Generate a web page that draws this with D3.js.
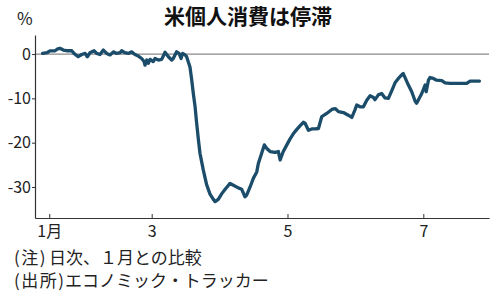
<!DOCTYPE html>
<html><head><meta charset="utf-8">
<script src="https://cdn.jsdelivr.net/npm/d3@7"></script>
<style>
html,body{margin:0;padding:0;background:#fff;}
svg{display:block;font-family:"Noto Sans CJK JP","Noto Sans",sans-serif;}
</style></head>
<body><svg id="c" width="500" height="301"></svg>
<script>
// Day of year 2020 (Jan 1 = 0) and change vs January (%)
const days = [11,13,14.3,16.6,17.6,18.8,20.3,21.8,24.1,25.1,27,28.6,30.1,31.1,32.3,34.1,35.3,36.8,38.3,39.8,41.3,42.8,44.3,45.8,46.5,48,49.5,51,52.5,54,55.5,56.6,57,57.8,58.5,59.3,60.7,61.5,63,64.5,66,67.5,69,69.7,71.2,72.3,73.2,73.9,75,75.7,77.2,78,78.7,79.5,80.2,81,81.7,83.2,84.7,86.2,87.7,88.5,89.9,91.5,93,95.2,96.7,98.9,100.4,101.9,102.7,104.2,105.7,107.2,107.9,109.4,110.6,111.7,113.2,115.4,116.9,117.7,119.1,120.7,122.1,123.6,125.2,126.6,128.1,128.9,130.4,131.9,133.4,134.9,136.4,138.6,140.9,142.4,143.9,146.1,148.3,149.9,151.3,152.1,153.6,155.1,156.6,158.1,159.6,160.3,161.8,163.3,164.8,166.3,167.8,169.3,170.8,172.3,173,175.3,176.8,178.3,179,181.3,182.8,183.3,184.3,185,186.5,188,190.3,191.8,194,197,199.4,201.5,203,205.3,207.2];
const values = [0.15,0.3,0.7,0.75,1.1,1.3,0.9,0.75,0.75,0.15,-0.6,-0.1,0.15,-0.6,0.3,0.75,0.15,-0.1,0.9,0.15,-0.2,0.5,0.15,0.3,0.75,0.3,0.15,0.5,-0.1,-0.45,-1,-1.7,-2.5,-1.35,-2.1,-1.2,-1.7,-1,-1.35,-1.2,0.4,-0.6,-1.35,-1,0.5,0.15,-1,0.15,-0.2,-0.6,-2.9,-5.9,-8.9,-11.9,-15.6,-19.4,-22.4,-26.2,-29.5,-31.6,-32.8,-33.3,-32.8,-31.5,-30.5,-29.2,-29.6,-30.2,-30.5,-32.2,-31.8,-30,-28,-26.6,-24.7,-22.4,-20.5,-21.3,-22,-22.2,-22,-23.9,-22,-20.5,-19.2,-18,-17,-16.2,-15.4,-15.6,-17.2,-16.9,-16.9,-16.8,-14.1,-13.4,-12.5,-12.3,-13,-13.2,-13.8,-14.3,-12.6,-11.5,-11.9,-11.9,-10.4,-9.4,-9.8,-10.3,-9.2,-8.9,-9.9,-10,-8.3,-6.5,-5.5,-4.7,-4.4,-7,-8.5,-10.6,-11.1,-8.9,-7,-8.5,-5.9,-5.3,-5.5,-5.9,-6,-6.5,-6.6,-6.6,-6.6,-6.6,-6.1,-6.1,-6.1];
const yTicks = [0,-10,-20,-30];
const xTickDays = [14,60,121,182];
const xTickLabels = ["1月","3","5","7"];
const title = "米個人消費は停滞";
const unit = "%";
const noteHeads = ["(注)","(出所)"];
const noteBodies = ["日次、１月との比較","エコノミック・トラッカー"];

const svg = d3.select("#c");
const x = d3.scaleLinear().domain([7.6,211.5]).range([35,489]);
const y = d3.scaleLinear().domain([-37,4.3]).range([218,35]);

// zero line
svg.append("line").attr("x1",35).attr("x2",489).attr("y1",y(0)).attr("y2",y(0))
  .attr("stroke","#8a8a8a").attr("stroke-width",1.2);

// y axis
const ya = svg.append("g").attr("transform","translate(35,0)")
  .call(d3.axisLeft(y).tickValues(yTicks).tickSize(3).tickSizeOuter(0).tickPadding(1).tickFormat(d=>String(d)));
ya.select(".domain").attr("stroke","#333").attr("stroke-width",1.2);
ya.selectAll(".tick line").attr("stroke","#333");
ya.selectAll(".tick text").attr("font-size",16).attr("fill","#222").attr("font-family","'Noto Sans CJK JP',sans-serif");

// x axis
const xa = svg.append("g").attr("transform","translate(0,218)")
  .call(d3.axisBottom(x).tickValues(xTickDays).tickSize(-4).tickSizeOuter(0).tickPadding(8)
    .tickFormat((d,i)=>xTickLabels[i]));
xa.select(".domain").attr("stroke","#333").attr("stroke-width",1.2);
xa.selectAll(".tick line").attr("stroke","#333");
xa.selectAll(".tick text").attr("font-size",16).attr("fill","#222").attr("font-family","'Noto Sans CJK JP',sans-serif");

// line
const pts = days.map((d,i)=>[d,values[i]]);
svg.append("path").datum(pts)
  .attr("d", d3.line().x(d=>x(d[0])).y(d=>y(d[1])))
  .attr("fill","none").attr("stroke","#1b4d6b").attr("stroke-width",3.3).attr("stroke-linejoin","round").attr("stroke-linecap","round");

// texts
svg.append("text").attr("x",248).attr("y",24).attr("text-anchor","middle")
  .attr("font-size",21).attr("font-weight","bold").attr("fill","#111").text(title);
svg.append("text").attr("x",17).attr("y",25).attr("font-size",17).attr("fill","#222").text(unit);
const bodyX = [49,65];
noteHeads.forEach((t,i)=>{
  const tx = svg.append("text").attr("y",264+i*23).attr("font-size",17).attr("fill","#222");
  tx.append("tspan").attr("x",14).attr("letter-spacing",1.5).text(t);
  tx.append("tspan").attr("x",bodyX[i]).text(noteBodies[i]);
});
</script></body></html>
